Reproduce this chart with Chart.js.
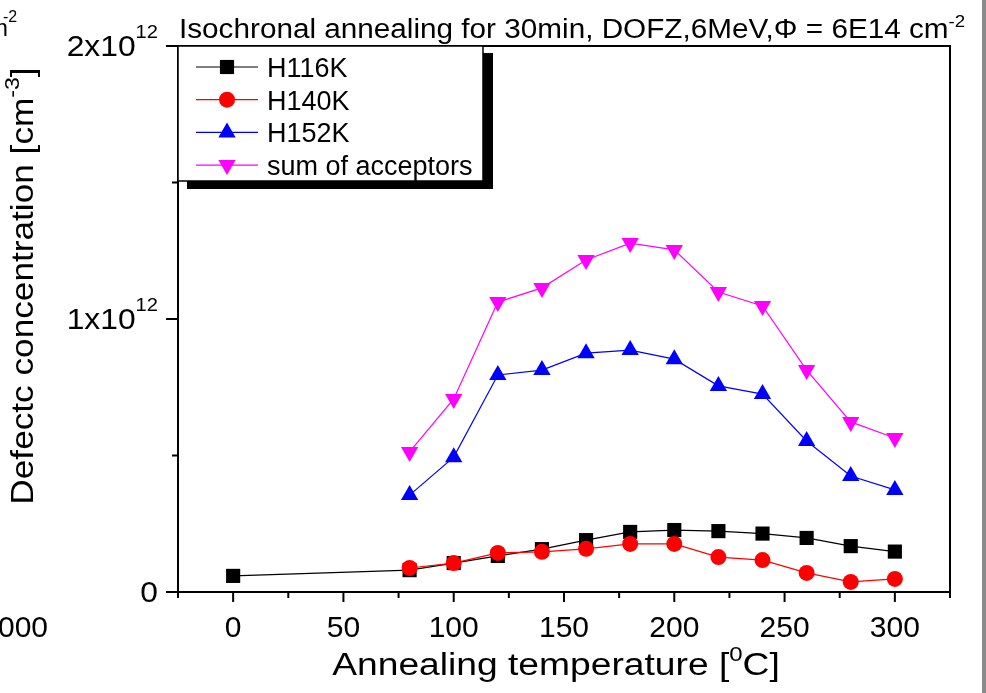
<!DOCTYPE html>
<html>
<head>
<meta charset="utf-8">
<title>Isochronal annealing — DOFZ, 6 MeV</title>
<script src="https://cdn.jsdelivr.net/npm/chart.js@4.4.0/dist/chart.umd.min.js"></script>
<style>
  html, body { margin: 0; padding: 0; background: #fff; }
  #wrap { width: 986px; height: 693px; }
</style>
</head>
<body>
<div id="wrap"><canvas id="annealChart" width="986" height="693"></canvas></div>
<script>
// ------------------------------------------------------------
// Data: annealing temperature [°C] and defect concentrations
// (concentrations in units of 1e12 cm^-3)
// ------------------------------------------------------------
const tempsH116K = [0, 80, 100, 120, 140, 160, 180, 200, 220, 240, 260, 280, 300];
const temps = [80, 100, 120, 140, 160, 180, 200, 220, 240, 260, 280, 300];

const h116k = [0.059, 0.080, 0.106, 0.132, 0.157, 0.190, 0.220, 0.227, 0.223, 0.214, 0.198, 0.168, 0.148];
const h140k = [0.088, 0.106, 0.143, 0.147, 0.158, 0.176, 0.176, 0.128, 0.117, 0.070, 0.037, 0.048];
const h152k = [0.355, 0.494, 0.795, 0.813, 0.875, 0.886, 0.853, 0.755, 0.725, 0.553, 0.425, 0.374];
const sumAcceptors = [0.513, 0.707, 1.062, 1.114, 1.216, 1.278, 1.253, 1.099, 1.048, 0.813, 0.623, 0.564];

const seriesLabels = ['H116K', 'H140K', 'H152K', 'sum of acceptors'];
const xMajorTicks = [0, 50, 100, 150, 200, 250, 300];
const xMinorTicks = [-25, 25, 75, 125, 175, 225, 275, 325];
const yMajorTicks = [0, 1, 2];
const yMinorTicks = [0.5, 1.5];

const FONT = '"Liberation Sans", Arial, sans-serif';

const toPoints = (xs, ys) => xs.map((t, i) => ({ x: t, y: ys[i] }));

// Draws a run of text pieces [text, size, raise] on one baseline (for superscripts)
function drawRich(ctx, pieces, x, y, align, scaleX = 1) {
  const widths = pieces.map(([t, s]) => {
    ctx.font = `${s}px ${FONT}`;
    return ctx.measureText(t).width * scaleX;
  });
  const total = widths.reduce((a, b) => a + b, 0);
  let cx = align === 'right' ? x - total : align === 'center' ? x - total / 2 : x;
  ctx.textAlign = 'left';
  ctx.textBaseline = 'alphabetic';
  pieces.forEach(([t, s, raise], i) => {
    ctx.font = `${s}px ${FONT}`;
    ctx.save();
    ctx.translate(cx, y - (raise || 0));
    ctx.scale(scaleX, 1);
    ctx.fillText(t, 0, 0);
    ctx.restore();
    cx += widths[i];
  });
}

// ------------------------------------------------------------
// Frame, ticks, axis labels and titles
// ------------------------------------------------------------
const frameAndLabels = {
  id: 'frameAndLabels',
  afterDatasetsDraw(chart) {
    const { ctx, chartArea: a, scales: { x, y } } = chart;
    ctx.save();
    ctx.fillStyle = '#000';
    ctx.strokeStyle = '#000';

    // box around the plot
    ctx.lineWidth = 2;
    ctx.strokeRect(a.left, a.top, a.right - a.left, a.bottom - a.top);

    // outward ticks
    ctx.beginPath();
    xMajorTicks.forEach((t) => { const px = x.getPixelForValue(t); ctx.moveTo(px, a.bottom); ctx.lineTo(px, a.bottom + 10); });
    xMinorTicks.forEach((t) => { const px = x.getPixelForValue(t); ctx.moveTo(px, a.bottom); ctx.lineTo(px, a.bottom + 6); });
    yMajorTicks.forEach((v) => { const py = y.getPixelForValue(v); ctx.moveTo(a.left, py); ctx.lineTo(a.left - 12, py); });
    yMinorTicks.forEach((v) => { const py = y.getPixelForValue(v); ctx.moveTo(a.left, py); ctx.lineTo(a.left - 6, py); });
    ctx.stroke();

    // tick labels
    xMajorTicks.forEach((t) => {
      drawRich(ctx, [[String(t), 30, 0]], x.getPixelForValue(t), a.bottom + 45, 'center');
    });
    yMajorTicks.forEach((v) => {
      const py = y.getPixelForValue(v);
      const pieces = v === 0 ? [['0', 30, 0]] : [[`${v}x10`, 30, 0], ['12', 19, 18]];
      drawRich(ctx, pieces, a.left - 20, py + 10, 'right', 1.06);
    });

    // axis titles
    drawRich(ctx, [['Annealing temperature [', 31, 0], ['0', 20, 14], ['C]', 31, 0]], 556, 675, 'center', 1.2);
    ctx.save();
    ctx.translate(33, 286);
    ctx.rotate(-Math.PI / 2);
    drawRich(ctx, [['Defectc concentration [cm', 32, 0], ['-3', 21, 14], [']', 32, 0]], 0, 0, 'center', 1.1);
    ctx.restore();

    // header
    drawRich(ctx, [['Isochronal annealing for 30min, DOFZ,6MeV,\u03A6 = 6E14 cm', 27, 0], ['-2', 17, 11]], 179, 38, 'left', 1.1);

    // labels of the neighbouring panel, cut at the left edge
    drawRich(ctx, [['cm', 24, 0]], 8, 36, 'right');
    drawRich(ctx, [['-2', 16, 14]], 3, 36, 'left');
    drawRich(ctx, [['1000', 30, 0]], 48, 637, 'right');

    // grey edge on the right
    ctx.fillStyle = '#8a8a8a';
    ctx.fillRect(982, 0, 4, chart.height);
    ctx.restore();
  },

  // legend with drop shadow in the upper left corner
  afterDraw(chart) {
    const { ctx, chartArea: a } = chart;
    const boxX = a.left, boxY = a.top, boxW = 305, boxH = 135;
    ctx.save();
    ctx.fillStyle = '#000';
    ctx.fillRect(boxX + 9, boxY + 7, boxW + 1, boxH + 1);
    ctx.fillStyle = '#fff';
    ctx.fillRect(boxX, boxY, boxW, boxH);
    ctx.strokeStyle = '#000';
    ctx.lineWidth = 1.5;
    ctx.strokeRect(boxX, boxY, boxW, boxH);

    chart.data.datasets.forEach((ds, i) => {
      const rowY = boxY + 21 + i * 32.7;
      ctx.strokeStyle = ds.borderColor;
      ctx.lineWidth = 1.2;
      ctx.beginPath();
      ctx.moveTo(boxX + 18, rowY);
      ctx.lineTo(boxX + 80, rowY);
      ctx.stroke();
      ctx.fillStyle = ds.backgroundColor;
      Chart.helpers.drawPoint(ctx, {
        pointStyle: ds.pointStyle,
        rotation: ds.pointRotation || 0,
        radius: ds.pointRadius,
        borderWidth: 0
      }, boxX + 49, rowY);
      ctx.fillStyle = '#000';
      drawRich(ctx, [[ds.label, 27, 0]], boxX + 89, rowY + 10, 'left');
    });
    ctx.restore();
  }
};

const series = [
  { label: seriesLabels[0], xs: tempsH116K, ys: h116k, color: '#000000', style: 'rect', radius: 10, rot: 0, order: 4 },
  { label: seriesLabels[1], xs: temps, ys: h140k, color: '#ff0000', style: 'circle', radius: 8, rot: 0, order: 3 },
  { label: seriesLabels[2], xs: temps, ys: h152k, color: '#0000ff', style: 'triangle', radius: 10, rot: 0, order: 2 },
  { label: seriesLabels[3], xs: temps, ys: sumAcceptors, color: '#ff00ff', style: 'triangle', radius: 10, rot: 180, order: 1 }
];

new Chart(document.getElementById('annealChart'), {
  type: 'line',
  data: {
    datasets: series.map((s) => ({
      label: s.label,
      data: toPoints(s.xs, s.ys),
      borderColor: s.color,
      backgroundColor: s.color,
      borderWidth: 1.2,
      pointStyle: s.style,
      pointRotation: s.rot,
      pointRadius: s.radius,
      pointBackgroundColor: s.color,
      pointBorderColor: s.color,
      pointBorderWidth: 0,
      tension: 0,
      fill: false,
      order: s.order
    }))
  },
  options: {
    responsive: false,
    animation: false,
    layout: { padding: { left: 178, top: 46, right: 36, bottom: 101 } },
    plugins: { legend: { display: false }, tooltip: { enabled: false } },
    scales: {
      x: { type: 'linear', min: -25, max: 325, display: false },
      y: { type: 'linear', min: 0, max: 2, display: false }
    }
  },
  plugins: [frameAndLabels]
});
</script>
</body>
</html>
